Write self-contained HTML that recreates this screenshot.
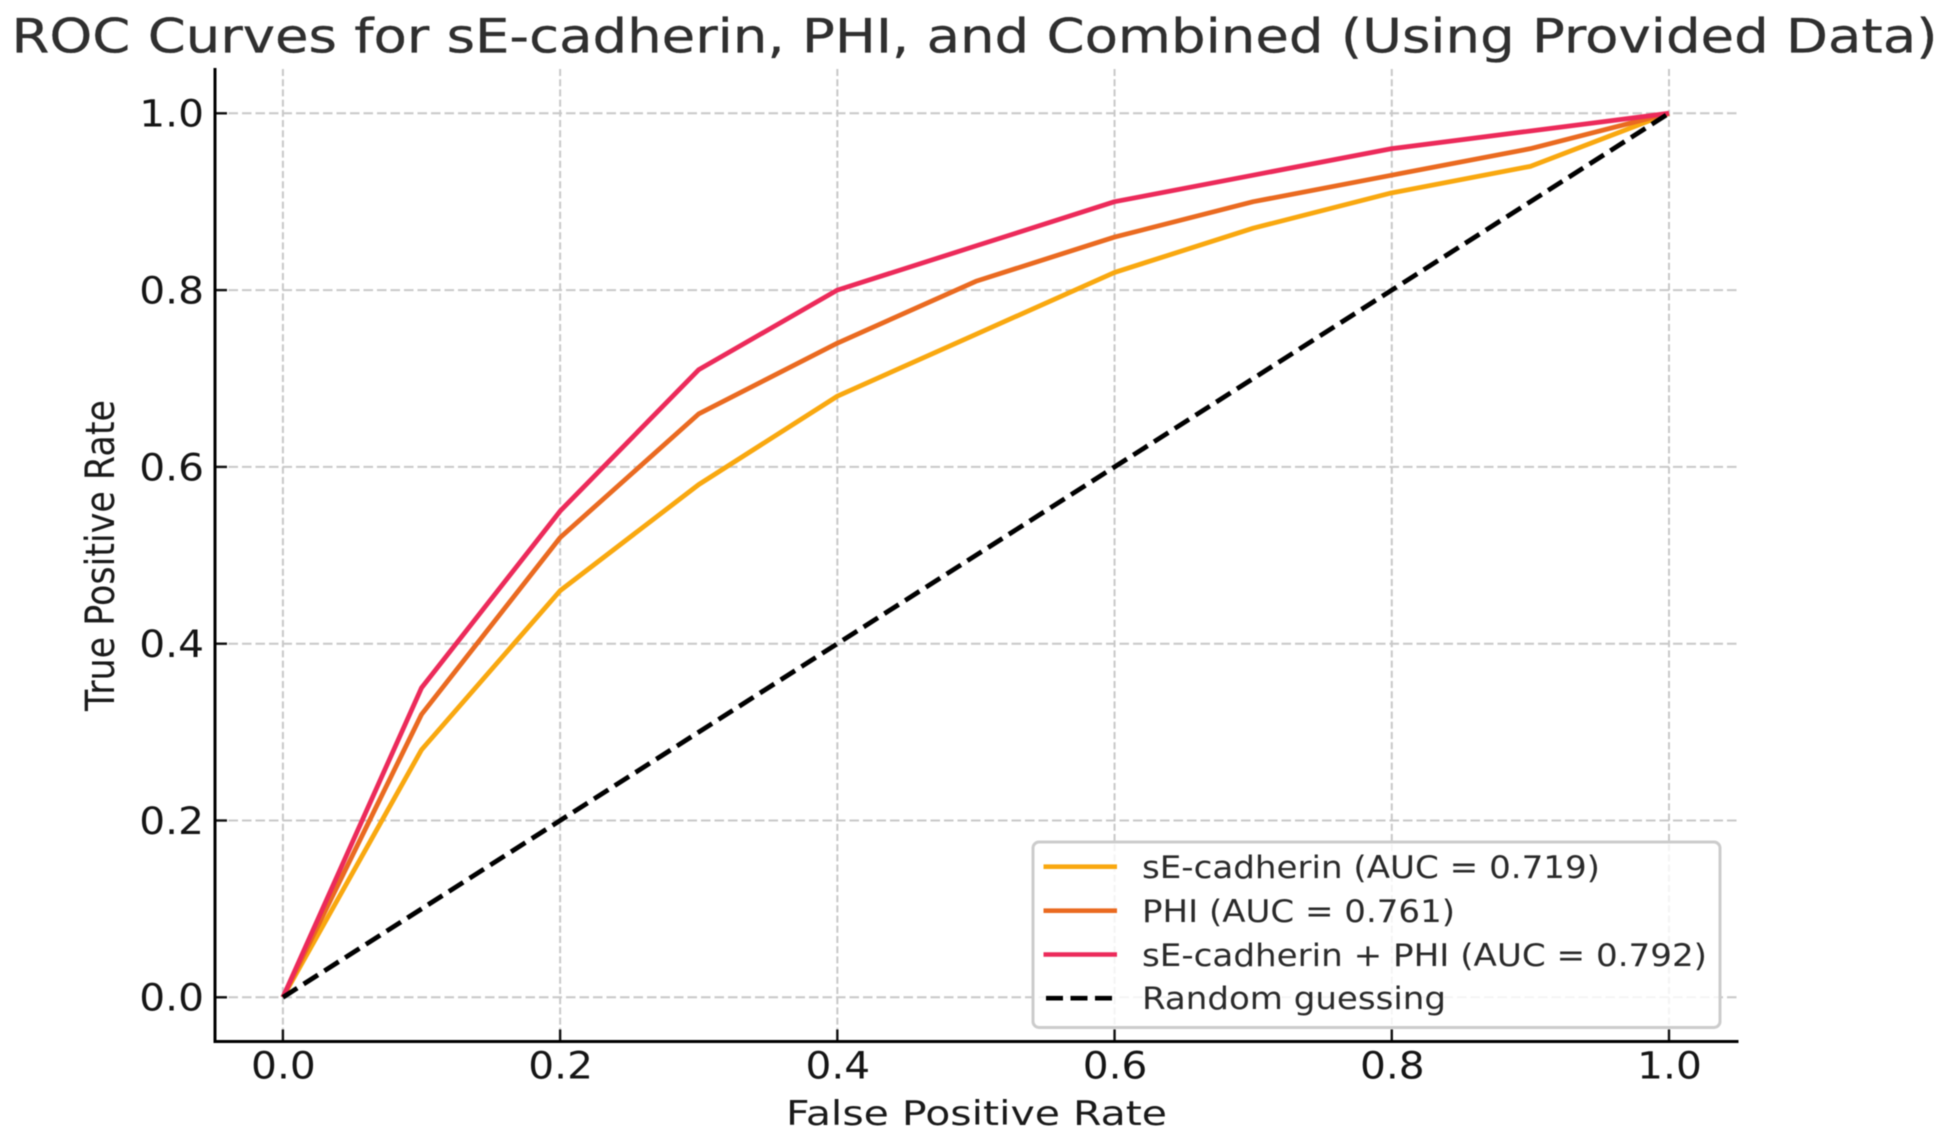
<!DOCTYPE html>
<html lang="en">
<head>
<meta charset="utf-8">
<title>ROC Curves</title>
<style>
html,body{margin:0;padding:0;background:#fff;width:1949px;height:1141px;overflow:hidden}
svg{display:block;filter:blur(0.4px)}
text{font-family:"DejaVu Sans","Liberation Sans",sans-serif}
</style>
</head>
<body>
<svg id="chart" width="1949" height="1141" viewBox="0 0 1949 1141" xmlns="http://www.w3.org/2000/svg">
  <rect x="0" y="0" width="1949" height="1141" fill="#ffffff"/>
  <text x="11.5" y="52.5" font-size="47" fill="#2f2f2f" stroke="#2f2f2f" stroke-width="0.3" textLength="1926" lengthAdjust="spacingAndGlyphs">ROC Curves for sE-cadherin, PHI, and Combined (Using Provided Data)</text>
  <g id="grid"></g>
  <g id="series"></g>
  <g id="axes"></g>
  <text x="786" y="1125" font-size="33.5" fill="#1a1a1a" textLength="381" lengthAdjust="spacingAndGlyphs">False Positive Rate</text>
  <text transform="translate(114,711) scale(1.3,1) rotate(-90)" x="0" y="0" font-size="30.6" fill="#1a1a1a" textLength="311" lengthAdjust="spacingAndGlyphs">True Positive Rate</text>
  <g id="legend">
    <rect x="1033" y="842" width="687" height="185.5" rx="6" ry="6" fill="#ffffff" fill-opacity="0.8" stroke="#cccccc" stroke-width="3"/>
    <line x1="1043.5" x2="1117" y1="866.7" y2="866.7" stroke="#f9a80f" stroke-width="4.6"/>
    <text x="1142" y="877.8" font-size="31" fill="#2a2a2a" textLength="458" lengthAdjust="spacingAndGlyphs">sE-cadherin (AUC = 0.719)</text>
    <line x1="1043.5" x2="1117" y1="910.7" y2="910.7" stroke="#ea6a20" stroke-width="4.6"/>
    <text x="1142" y="921.8" font-size="31" fill="#2a2a2a" textLength="313" lengthAdjust="spacingAndGlyphs">PHI (AUC = 0.761)</text>
    <line x1="1043.5" x2="1117" y1="954.5" y2="954.5" stroke="#ec2a5a" stroke-width="4.6"/>
    <text x="1142" y="966" font-size="31" fill="#2a2a2a" textLength="565" lengthAdjust="spacingAndGlyphs">sE-cadherin + PHI (AUC = 0.792)</text>
    <line x1="1046" x2="1118" y1="998.2" y2="998.2" stroke="#000000" stroke-width="4.6" stroke-dasharray="17 7.5"/>
    <text x="1142" y="1009" font-size="31" fill="#2a2a2a" textLength="304" lengthAdjust="spacingAndGlyphs">Random guessing</text>
  </g>
</svg>
<script>
const xTicks = [0.0, 0.2, 0.4, 0.6, 0.8, 1.0];
const yTicks = [0.0, 0.2, 0.4, 0.6, 0.8, 1.0];
const fpr = [0, 0.1, 0.2, 0.3, 0.4, 0.5, 0.6, 0.7, 0.8, 0.9, 1.0];
const seCadherin = [0, 0.28, 0.46, 0.58, 0.68, 0.75, 0.82, 0.87, 0.91, 0.94, 1.0];
const phi = [0, 0.32, 0.52, 0.66, 0.74, 0.81, 0.86, 0.90, 0.93, 0.96, 1.0];
const combined = [0, 0.35, 0.55, 0.71, 0.80, 0.85, 0.90, 0.93, 0.96, 0.98, 1.0];
const randomX = [0, 1];
const randomY = [0, 1];

const NS = 'http://www.w3.org/2000/svg';
const X0 = 282.9, X1 = 1669, Y0 = 997.3, Y1 = 113.3;
const LEFT = 215, RIGHT = 1738.5, TOP = 69, BOTTOM = 1041.5;
const TICK_SCALE = 1.1;
function xScale(v) { return X0 + (X1 - X0) * v; }
function yScale(v) { return Y0 + (Y1 - Y0) * v; }
function make(tag, attrs, parent) {
  const el = document.createElementNS(NS, tag);
  for (const k in attrs) el.setAttribute(k, attrs[k]);
  parent.appendChild(el);
  return el;
}
const gridG = document.getElementById('grid');
const seriesG = document.getElementById('series');
const axesG = document.getElementById('axes');

xTicks.forEach(function (t) {
  const g = make('line', {x1: xScale(t), x2: xScale(t), y1: TOP, y2: BOTTOM, stroke: '#c8c8c8', 'stroke-width': 2, 'stroke-dasharray': '7 3.2'}, gridG);
  
  
  const tk = make('line', {x1: xScale(t), x2: xScale(t), y1: BOTTOM - 12, y2: BOTTOM, stroke: '#111111', 'stroke-width': 2.4}, axesG);
  
  
  const lb = make('text', {transform: 'translate(' + (xScale(t) + 0.5) + ',1078.5) scale(' + TICK_SCALE + ',1)', 'text-anchor': 'middle', 'font-size': 37, fill: '#151515'}, axesG);
  lb.textContent = t.toFixed(1);
  
  
});
yTicks.forEach(function (t) {
  const g = make('line', {x1: LEFT, x2: RIGHT, y1: yScale(t), y2: yScale(t), stroke: '#c8c8c8', 'stroke-width': 2, 'stroke-dasharray': '9.5 4'}, gridG);
  
  
  const tk = make('line', {x1: LEFT, x2: LEFT + 12, y1: yScale(t), y2: yScale(t), stroke: '#111111', 'stroke-width': 2.4}, axesG);
  
  
  const lb = make('text', {transform: 'translate(204,' + (yScale(t) + 13.4) + ') scale(' + TICK_SCALE + ',1)', 'text-anchor': 'end', 'font-size': 37, fill: '#151515'}, axesG);
  lb.textContent = t.toFixed(1);
  
  
});

function points(xs, ys) {
  return xs.map(function (x, i) { return xScale(x).toFixed(2) + ',' + yScale(ys[i]).toFixed(2); }).join(' ');
}
const seLine = make('polyline', {points: points(fpr, seCadherin), fill: 'none', stroke: '#f9a80f', 'stroke-width': 4.8, 'stroke-linejoin': 'round'}, seriesG);


const phiLine = make('polyline', {points: points(fpr, phi), fill: 'none', stroke: '#ea6a20', 'stroke-width': 4.8, 'stroke-linejoin': 'round'}, seriesG);


const comboLine = make('polyline', {points: points(fpr, combined), fill: 'none', stroke: '#ec2a5a', 'stroke-width': 4.8, 'stroke-linejoin': 'round'}, seriesG);


const randLine = make('polyline', {points: points(randomX, randomY), fill: 'none', stroke: '#000000', 'stroke-width': 4.8, 'stroke-dasharray': '17 7.6'}, seriesG);



const leftSpine = make('line', {x1: LEFT, x2: LEFT, y1: TOP - 1, y2: BOTTOM + 1.5, stroke: '#000000', 'stroke-width': 3}, axesG);


const bottomSpine = make('line', {x1: LEFT - 1.5, x2: RIGHT, y1: BOTTOM, y2: BOTTOM, stroke: '#000000', 'stroke-width': 3}, axesG);


</script>
</body>
</html>
